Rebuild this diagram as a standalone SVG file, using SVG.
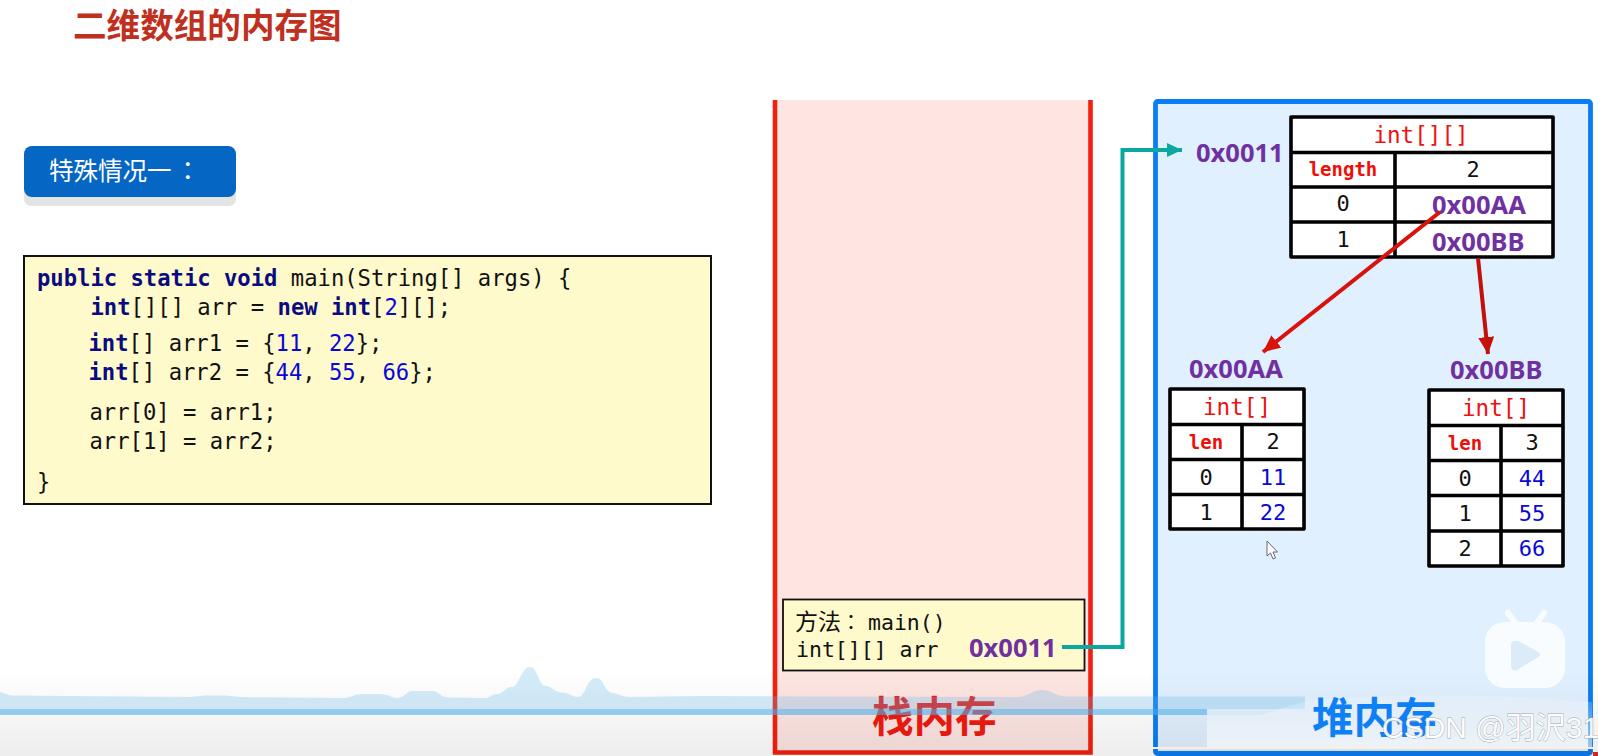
<svg xmlns="http://www.w3.org/2000/svg" width="1598" height="756" viewBox="0 0 1598 756">
<style>
text{font-family:"DejaVu Sans Mono","Liberation Mono",monospace;fill:#111}
.cjk{font-family:"Noto Sans CJK SC","Noto Sans",sans-serif}
.code{font-size:22.2px}
.k{font-weight:700;fill:#0b0b80}
.n{fill:#0808d8}
.t{font-size:22px;text-anchor:middle}
.r{fill:#f01010;font-size:22.6px}
.b{font-weight:700;font-size:19px;fill:#ee1008}
.addr{font-family:"Noto Sans","Open Sans",sans-serif;font-weight:700;font-size:25.5px;fill:#7030a0}
.cell{fill:#fff;stroke:#000;stroke-width:3.6;stroke-linejoin:round}
.ln{stroke:#000;stroke-width:3.6;fill:none}
.arrow{fill:none;stroke-width:4}
</style>
<defs>
<marker id="mr" markerUnits="userSpaceOnUse" markerWidth="18" markerHeight="16" refX="17" refY="8" orient="auto"><path d="M0 0L17 8L0 16z" fill="#d8120c"/></marker>
<marker id="md" markerUnits="userSpaceOnUse" markerWidth="18" markerHeight="16" refX="17" refY="8" orient="auto"><path d="M0 0L17 8L0 16z" fill="#c4100a"/></marker>
<marker id="mt" markerUnits="userSpaceOnUse" markerWidth="16" markerHeight="14" refX="15" refY="7" orient="auto"><path d="M0 0L15 7L0 14z" fill="#0aa89e"/></marker>
<linearGradient id="fade" x1="0" y1="0" x2="0" y2="1"><stop offset="0" stop-color="#000" stop-opacity="0"/><stop offset="1" stop-color="#000" stop-opacity=".07"/></linearGradient>
<linearGradient id="wf" x1="0" y1="0" x2="0" y2="1"><stop offset="0" stop-color="#fff" stop-opacity=".15"/><stop offset="1" stop-color="#fff" stop-opacity=".6"/></linearGradient>
</defs>
<rect width="1598" height="756" fill="#fff"/>

<g id="title"><text class="cjk" x="73" y="38" font-size="33.6" font-weight="700" style="fill:#c0301f">二维数组的内存图</text></g>

<g id="badge">
<rect x="24" y="156" width="212" height="50" rx="7" fill="#e4e4e4"/>
<rect x="24" y="146" width="212" height="51" rx="8" fill="#0566c4"/>
<text class="cjk" x="49" y="180" font-size="24.5" style="fill:#fff">特殊情况一<tspan font-family="Noto Sans CJK TC" dx="4">：</tspan></text>
</g>

<g id="code">
<rect x="24" y="256" width="687" height="248" fill="#fffacb" stroke="#111" stroke-width="2"/>
<text class="code" x="37" y="286"><tspan class="k">public static void</tspan> main(String[] args) {</text>
<text class="code" x="90.5" y="315"><tspan class="k">int</tspan>[][] arr = <tspan class="k">new int</tspan>[<tspan class="n">2</tspan>][];</text>
<text class="code" x="88.5" y="351"><tspan class="k">int</tspan>[] arr1 = {<tspan class="n">11</tspan>, <tspan class="n">22</tspan>};</text>
<text class="code" x="88.5" y="380"><tspan class="k">int</tspan>[] arr2 = {<tspan class="n">44</tspan>, <tspan class="n">55</tspan>, <tspan class="n">66</tspan>};</text>
<text class="code" x="89.5" y="420">arr[0] = arr1;</text>
<text class="code" x="89.5" y="449">arr[1] = arr2;</text>
<text class="code" x="37" y="490">}</text>
</g>

<g id="stack">
<path d="M775 100V752.500H1090.500V100" fill="#fee5e2" stroke="#f4200f" stroke-width="4.600"/>
<rect x="783" y="599.500" width="301.500" height="71" fill="#fffacb" stroke="#111" stroke-width="1.800"/>
<text class="cjk" x="795" y="630" font-size="23">方法<tspan font-family="Noto Sans CJK TC" font-size="20">：</tspan></text>
<text x="868" y="630" font-size="21.500">main()</text>
<text x="796" y="657" font-size="21.500">int[][] arr</text>
<text class="addr" x="969" y="657">0x0011</text>
<text class="cjk" x="872" y="732" font-size="41.500" font-weight="700" style="fill:#f01a10">栈内存</text>
</g>

<g id="heap">
<rect x="1155.500" y="101.500" width="435" height="652" rx="2" fill="#e1f0ff" stroke="#0a7cf5" stroke-width="4.800"/>
<text class="addr" x="1196" y="162">0x0011</text>
</g>

<g id="array2d">
<rect class="cell" x="1291" y="117" width="262" height="140"/>
<path class="ln" d="M1291 152.500H1553M1291 187H1553M1291 222H1553M1395 152.500V258"/>
<text class="t r" x="1421" y="143">int[][]</text>
<text class="t b" x="1343" y="176">length</text>
<text class="t" x="1473" y="177">2</text>
<text class="t" x="1343" y="211">0</text>
<text class="addr" x="1432" y="214">0x00AA</text>
<text class="t" x="1343" y="247">1</text>
<text class="addr" x="1432" y="251">0x00BB</text>
</g>

<g id="arrayA">
<text class="addr" x="1189" y="378">0x00AA</text>
<rect class="cell" x="1170" y="389" width="134" height="140"/>
<path class="ln" d="M1170 424.500H1304M1170 459.500H1304M1170 494.500H1304M1242 424.500V529"/>
<text class="t r" x="1237" y="415">int[]</text>
<text class="t b" x="1206" y="449">len</text>
<text class="t" x="1273" y="449">2</text>
<text class="t" x="1206" y="485">0</text>
<text class="t n" x="1273" y="485">11</text>
<text class="t" x="1206" y="520">1</text>
<text class="t n" x="1273" y="520">22</text>
</g>

<g id="arrayB">
<text class="addr" x="1450" y="379">0x00BB</text>
<rect class="cell" x="1429" y="390" width="134" height="176"/>
<path class="ln" d="M1429 425.500H1563M1429 460.500H1563M1429 495.500H1563M1429 531H1563M1501 425.500V566"/>
<text class="t r" x="1496" y="416">int[]</text>
<text class="t b" x="1465" y="450">len</text>
<text class="t" x="1532" y="450">3</text>
<text class="t" x="1465" y="486">0</text>
<text class="t n" x="1532" y="486">44</text>
<text class="t" x="1465" y="521">1</text>
<text class="t n" x="1532" y="521">55</text>
<text class="t" x="1465" y="556">2</text>
<text class="t n" x="1532" y="556">66</text>
</g>

<g id="connectors">
<path class="arrow" stroke="#0aa89e" marker-end="url(#mt)" d="M1062 647H1122.500V150H1182"/>
<path class="arrow" stroke="#d8120c" marker-end="url(#mr)" d="M1440 212L1263 352"/>
<path class="arrow" stroke="#c4100a" marker-end="url(#md)" d="M1478 258L1488 354"/>
</g>

<g id="cursor"><path d="M1267 541V556L1270.500 553L1273 559L1275.500 558L1273 552H1277.500z" fill="#fff" stroke="#667" stroke-width="1"/></g>

<g id="overlay">
<rect y="670" width="1598" height="86" fill="url(#fade)"/>
<path d="M0 692C5 693 8 695 12 695.500L190 697L205 695.500H225L240 697L345 698C352 697 355 694 362 694H380C388 694 392 698 397 698C404 698 407 691 412 691H433C439 691 440 697 447 697.500L485 698C490 698 492 694 497 694C503 694 505 687 512 687C519 687 521 667 530 667C538 667 538 686 546 686C552 686 553 692 562 692.500C570 693 572 697 578 697C586 697 586 678 596 678C605 678 603 692 613 693C620 694 622 697 630 697L700 696L800 696.500L1020 697C1030 695 1034 690 1042 690C1050 690 1054 695 1064 696.500L1207 696.500H1305V709H1207V715H0z" fill="#5fb5e8" opacity=".27"/>
<rect y="709" width="1207" height="6" fill="#4aaee8" opacity=".45"/>
<path d="M1207 715H1260L1310 700Q1450 690 1592 702V749H1207z" fill="url(#wf)"/>
<rect x="1153" y="747" width="440" height="2" fill="#fbeedd"/>
<rect x="1593" y="752" width="5" height="4" fill="#d8201c"/>
</g>

<g id="heap-label"><text class="cjk" x="1312" y="733" font-size="41.500" font-weight="700" style="fill:#0f7ff5">堆内存</text></g>

<g id="play-icon">
<path d="M1508 613L1516 624M1544 613L1536 624" stroke="#f9fcff" stroke-width="6" stroke-linecap="round"/>
<rect x="1485" y="622" width="80" height="66" rx="20" fill="#f9fcff"/>
<path d="M1514 641C1512 641 1511 643 1511 645V665C1511 669 1514 672 1517 670L1537 658C1541 655 1541 654 1537 651L1518 641z" fill="#dcebf8"/>
</g>

<g id="watermark"><text x="1382" y="738" font-size="30" style="font-family:'Liberation Sans','Noto Sans CJK SC',sans-serif;fill:#fff;stroke:#9a9a9a;stroke-width:.8;opacity:.9;paint-order:stroke">CSDN @羽沢31</text></g>
</svg>
